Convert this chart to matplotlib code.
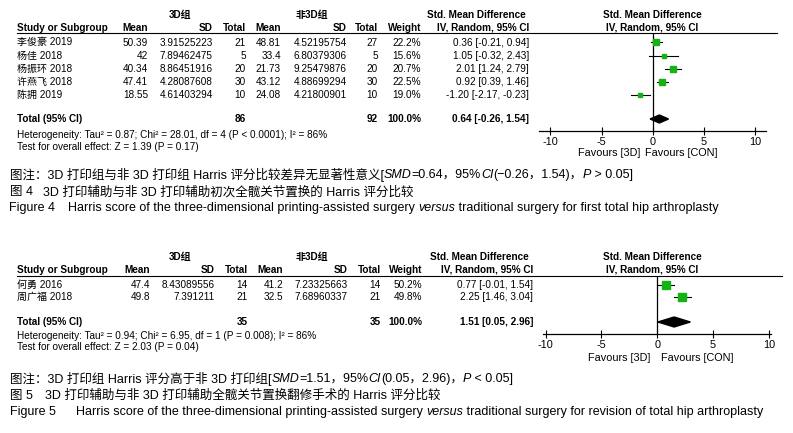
import matplotlib
matplotlib.use('Agg')
import matplotlib.pyplot as plt
from matplotlib.patches import Polygon
import numpy as np

plt.rcParams['font.family'] = ['Liberation Sans', 'Noto Sans CJK SC']

# ---------------- Figure 4 data ----------------
studies4 = ['李俊豪 2019', '杨佳 2018', '杨振环 2018', '许燕飞 2018', '陈拥 2019']
mean3d4 = [50.39, 42, 40.34, 47.41, 18.55]
sd3d4 = [3.91525223, 7.89462475, 8.86451916, 4.28087608, 4.61403294]
n3d4 = [21, 5, 20, 30, 10]
meanc4 = [48.81, 33.4, 21.73, 43.12, 24.08]
sdc4 = [4.52195754, 6.80379306, 9.25479876, 4.88699294, 4.21800901]
nc4 = [27, 5, 20, 30, 10]
weight4 = [22.2, 15.6, 20.7, 22.5, 19.0]
smd4 = [0.36, 1.05, 2.01, 0.92, -1.20]
lo4 = [-0.21, -0.32, 1.24, 0.39, -2.17]
hi4 = [0.94, 2.43, 2.79, 1.46, -0.23]
pooled4 = [0.64, -0.26, 1.54]
tot3d4, totc4 = 86, 92
het4 = 'Heterogeneity: Tau² = 0.87; Chi² = 28.01, df = 4 (P < 0.0001); I² = 86%'
zt4 = 'Test for overall effect: Z = 1.39 (P = 0.17)'

# ---------------- Figure 5 data ----------------
studies5 = ['何勇 2016', '周广福 2018']
mean3d5 = [47.4, 49.8]
sd3d5 = [8.43089556, 7.391211]
n3d5 = [14, 21]
meanc5 = [41.2, 32.5]
sdc5 = [7.23325663, 7.68960337]
nc5 = [14, 21]
weight5 = [50.2, 49.8]
smd5 = [0.77, 2.25]
lo5 = [-0.01, 1.46]
hi5 = [1.54, 3.04]
pooled5 = [1.51, 0.05, 2.96]
tot3d5, totc5 = 35, 35
het5 = 'Heterogeneity: Tau² = 0.94; Chi² = 6.95, df = 1 (P = 0.008); I² = 86%'
zt5 = 'Test for overall effect: Z = 2.03 (P = 0.04)'

xticks = [-10, -5, 0, 5, 10]

W, H, DPI = 793, 433, 100
fig = plt.figure(figsize=(W / DPI, H / DPI), dpi=DPI)
bg = fig.add_axes([0, 0, 1, 1])
bg.set_xlim(0, W)
bg.set_ylim(H, 0)
bg.axis('off')

FS = 7.2
GREEN = '#12b312'


def txt(x, y, s, ha='left', bold=False, size=FS, **kw):
    return bg.text(x, y, s, ha=ha, va='center', fontsize=size,
                   fontweight='bold' if bold else 'normal', **kw)


def fmt(v):
    return f'{v:g}'


def draw_panel(L, studies, m1, s1, n1, m2, s2, n2, wts, est, lo, hi, pooled,
               tot1, tot2, het, zt):
    c = L['cols']
    # group headers
    txt(L['grp'][0], L['gy'], '3D组', ha='center', bold=True)
    txt(L['grp'][1], L['gy'], '非3D组', ha='center', bold=True)
    txt(L['smdx'], L['gy'], 'Std. Mean Difference', ha='center', bold=True)
    txt(L['fx'], L['gy'], 'Std. Mean Difference', ha='center', bold=True)
    hy = L['hy']
    txt(17, hy, 'Study or Subgroup', bold=True)
    txt(c[0], hy, 'Mean', ha='right', bold=True)
    txt(c[1], hy, 'SD', ha='right', bold=True)
    txt(c[2], hy, 'Total', ha='right', bold=True)
    txt(c[3] - 26, hy, 'Mean', ha='left', bold=True)
    txt(c[4], hy, 'SD', ha='right', bold=True)
    txt(c[5], hy, 'Total', ha='right', bold=True)
    txt(c[6], hy, 'Weight', ha='right', bold=True)
    txt(c[7], hy, 'IV, Random, 95% CI', ha='right', bold=True)
    txt(L['fx'], hy, 'IV, Random, 95% CI', ha='center', bold=True)
    bg.plot([17, L['lineend']], [L['ly'], L['ly']], color='black', lw=0.8)

    rows_y = [L['r0'] + i * L['rs'] for i in range(len(studies))]
    for i, y in enumerate(rows_y):
        txt(17, y, studies[i])
        txt(c[0], y, fmt(m1[i]), ha='right')
        txt(c[1], y, str(s1[i]), ha='right')
        txt(c[2], y, str(n1[i]), ha='right')
        txt(c[3], y, fmt(m2[i]), ha='right')
        txt(c[4], y, str(s2[i]), ha='right')
        txt(c[5], y, str(n2[i]), ha='right')
        txt(c[6], y, f'{wts[i]:.1f}%', ha='right')
        txt(c[7], y, f'{est[i]:.2f} [{lo[i]:.2f}, {hi[i]:.2f}]', ha='right')
    ty = L['ty']
    txt(17, ty, 'Total (95% CI)', bold=True)
    txt(c[2], ty, str(tot1), ha='right', bold=True)
    txt(c[5], ty, str(tot2), ha='right', bold=True)
    txt(c[6], ty, '100.0%', ha='right', bold=True)
    txt(c[7], ty, f'{pooled[0]:.2f} [{pooled[1]:.2f}, {pooled[2]:.2f}]',
        ha='right', bold=True)
    txt(17, L['hety'], het)
    txt(17, L['zy'], zt)

    # forest axes (y in pixel units)
    px0, px1 = L['fpx']
    ax = fig.add_axes([px0 / W, 1 - L['axy'] / H, (px1 - px0) / W,
                       (L['axy'] - L['ly']) / H])
    ax.set_xlim(*L['xlim'])
    ax.set_ylim(L['axy'], L['ly'])
    ax.patch.set_alpha(0)
    for s in ['top', 'left', 'right']:
        ax.spines[s].set_visible(False)
    ax.spines['bottom'].set_linewidth(0.9)
    ax.set_yticks([])
    ax.set_xticks(xticks)
    ax.set_xticklabels([str(t) for t in xticks])
    ax.tick_params(axis='x', direction='inout', length=6, width=0.8,
                   labelsize=FS + 0.6, pad=1)
    ax.axvline(0, color='black', lw=0.9)
    for i, y in enumerate(rows_y):
        ax.plot([lo[i], hi[i]], [y, y], color='black', lw=0.8, zorder=2)
        side = 1.1 * np.sqrt(wts[i])
        ax.plot([est[i]], [y], marker='s', ms=side * 72 / DPI, color=GREEN,
                mec=GREEN, zorder=3)
    dh = L['dh']
    ax.add_patch(Polygon([[pooled[1], ty], [pooled[0], ty - dh],
                          [pooled[2], ty], [pooled[0], ty + dh]],
                         closed=True, color='black', zorder=3))
    txt(L['fav'][0], L['favy'], 'Favours [3D]', ha='right', size=FS + 0.6)
    txt(L['fav'][1], L['favy'], 'Favours [CON]', ha='left', size=FS + 0.6)


L4 = dict(gy=15, hy=28, ly=33, lineend=777, r0=42.5, rs=13.2, ty=119,
          hety=135, zy=147, cols=[148, 213, 246, 281, 347, 378, 421, 529],
          grp=[180, 312], smdx=476, fx=652, fpx=(539, 766),
          xlim=(-11.1, 11.05), axy=131, dh=4, favy=153, fav=(640, 645))
L5 = dict(gy=257, hy=270, ly=276, lineend=782, r0=285, rs=12, ty=322,
          hety=336, zy=347, cols=[150, 215, 248, 283, 348, 381, 422, 533],
          grp=[180, 312], smdx=479, fx=652, fpx=(543, 771),
          xlim=(-10.23, 10.18), axy=334, dh=5, favy=358, fav=(650, 661))

draw_panel(L4, studies4, mean3d4, sd3d4, n3d4, meanc4, sdc4, nc4, weight4,
           smd4, lo4, hi4, pooled4, tot3d4, totc4, het4, zt4)
draw_panel(L5, studies5, mean3d5, sd3d5, n3d5, meanc5, sdc5, nc5, weight5,
           smd5, lo5, hi5, pooled5, tot3d5, totc5, het5, zt5)

# ---------------- captions ----------------
renderer = fig.canvas.get_renderer()


def width_of(s, **kw):
    t1 = bg.text(0, 0, '|' + s + '|', **kw)
    t2 = bg.text(0, 0, '||', **kw)
    w = t1.get_window_extent(renderer).width - t2.get_window_extent(renderer).width
    t1.remove()
    t2.remove()
    return w


def segments(x, y, segs, size):
    for s, style in segs:
        kw = dict(fontsize=size, style=style)
        bg.text(x, y, s, va='center', ha='left', **kw)
        x += width_of(s, **kw)


CS = 9.0
N, I = 'normal', 'italic'
segments(10, 175, [('图注：3D 打印组与非 3D 打印组 Harris 评分比较差异无显著性意义[', N),
                   ('SMD', I), ('=0.64，95%', N), ('CI', I),
                   ('(−0.26，1.54)，', N), ('P', I), (' > 0.05]', N)], CS)
txt(10, 192, '图 4', size=CS)
txt(43, 192, '3D 打印辅助与非 3D 打印辅助初次全髋关节置换的 Harris 评分比较', size=CS)
txt(9, 208, 'Figure 4', size=CS)
segments(68, 208, [('Harris score of the three-dimensional printing-assisted surgery ', N),
                   ('versus', I),
                   (' traditional surgery for first total hip arthroplasty', N)], CS)

segments(10, 379, [('图注：3D 打印组 Harris 评分高于非 3D 打印组[', N),
                   ('SMD', I), ('=1.51，95%', N), ('CI', I),
                   ('(0.05，2.96)，', N), ('P', I), (' < 0.05]', N)], CS)
txt(10, 396, '图 5', size=CS)
txt(45, 396, '3D 打印辅助与非 3D 打印辅助全髋关节置换翻修手术的 Harris 评分比较', size=CS)
txt(10, 412, 'Figure 5', size=CS)
segments(76, 412, [('Harris score of the three-dimensional printing-assisted surgery ', N),
                   ('versus', I),
                   (' traditional surgery for revision of total hip arthroplasty', N)], CS)

fig.savefig('out.png', dpi=DPI)
